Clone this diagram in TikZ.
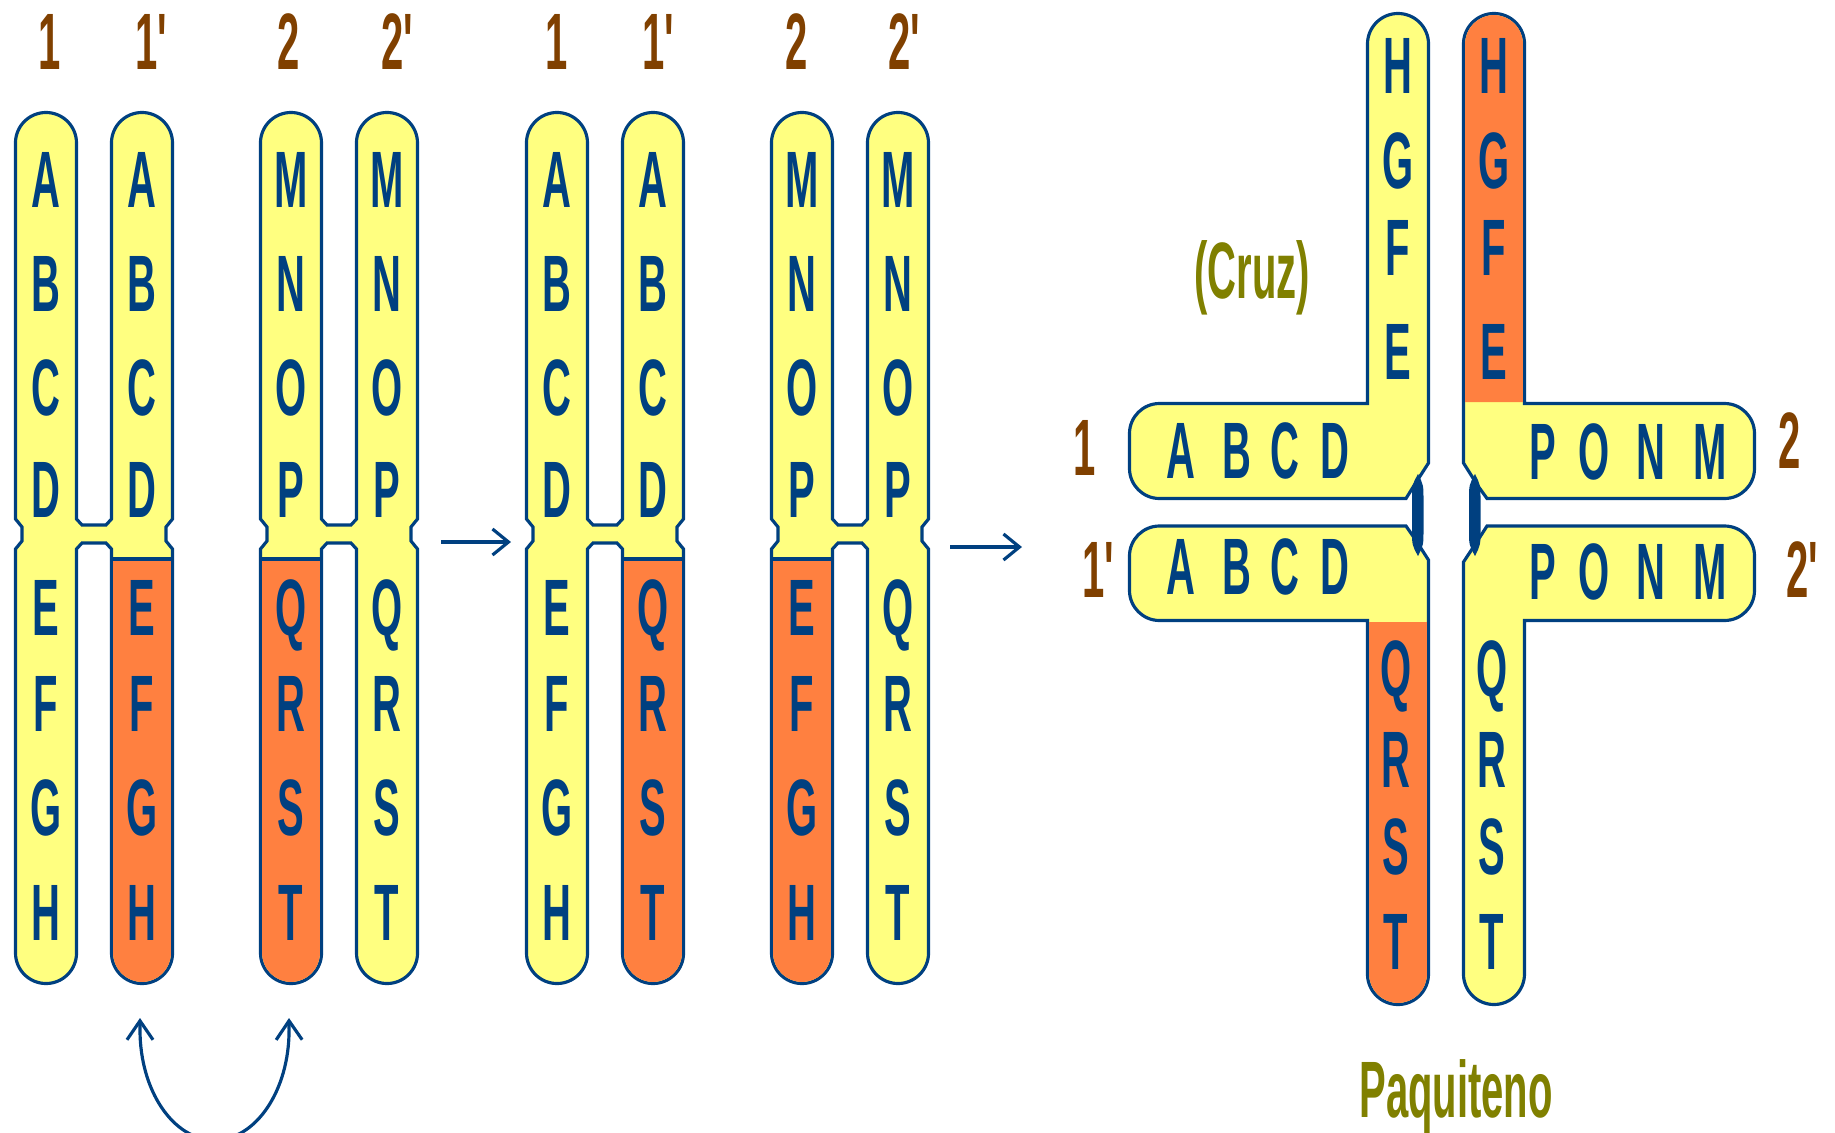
\documentclass[tikz,border=0pt]{standalone}
\usepackage{fontspec}
\newfontfamily\pixfont{Liberation Sans}[FakeStretch=0.5,Ligatures=TeXOff]
\usetikzlibrary{arrows.meta}
\definecolor{chromyellow}{RGB}{255,255,128}
\definecolor{chromorange}{RGB}{255,128,64}
\definecolor{chromblue}{RGB}{0,64,128}
\definecolor{labelbrown}{RGB}{128,64,0}
\definecolor{captionolive}{RGB}{128,128,0}

\newcommand{\capr}{0.305cm}
% two sister chromatids held together at the centromere
\newcommand{\pairoutline}[2]{(#1-30.5,143) -- (#1-30.5,519) -- (#1-24,527) -- (#1-24,541) -- (#1-30.5,549) -- (#1-30.5,953)
  arc[start angle=180,end angle=360,radius=\capr] -- (#1+30.5,549) -- (#1+36,543) -- (#2-36,543) -- (#2-30.5,549) -- (#2-30.5,953)
  arc[start angle=180,end angle=360,radius=\capr] -- (#2+30.5,549) -- (#2+24,541) -- (#2+24,527) -- (#2+30.5,519) -- (#2+30.5,143)
  arc[start angle=0,end angle=180,radius=\capr] -- (#2-30.5,519) -- (#2-36,525) -- (#1+36,525) -- (#1+30.5,519) -- (#1+30.5,143)
  arc[start angle=0,end angle=180,radius=\capr] -- cycle}
% translocated lower arm
\newcommand{\orangearm}[1]{(#1-28.9,559) -- (#1-28.9,953) arc[start angle=180,end angle=360,radius=0.289cm] -- (#1+28.9,559) -- cycle}
% centromere of the cross
\newcommand{\centromere}[1]{(#1,474) .. controls (#1-6,485) .. (#1-6,500) -- (#1-6,530) .. controls (#1-6,545) .. (#1,556)
  .. controls (#1+5.5,545) .. (#1+5.5,530) -- (#1+5.5,500) .. controls (#1+5.5,485) .. cycle}

\tikzset{
  chromline/.style={draw=chromblue,line width=0.9pt},
  gene/.style={font=\pixfont\bfseries\fontsize{22.75}{24}\selectfont,text=chromblue,inner sep=0pt,text height=0.55cm,text depth=0pt},
  chromlabel/.style={gene,text=labelbrown},
  caption/.style={font=\pixfont\bfseries\fontsize{22.75}{24}\selectfont,text=captionolive,inner sep=0pt,anchor=base},
  steparrow/.style={chromblue,line width=0.9pt,-{Straight Barb[length=1.6mm,width=2.6mm]}},
  swaparrow/.style={chromblue,line width=0.9pt,{Straight Barb[length=1.9mm,width=2.6mm]}-{Straight Barb[length=1.9mm,width=2.6mm]}}
}

\begin{document}
\begin{tikzpicture}[x=0.01cm,y=-0.01cm]
\useasboundingbox (0,0) rectangle (1835,1133);
\clip (0,0) rectangle (1835,1133);

% bivalents before and after the exchange
\foreach \a/\b in {46/142,291/387,557/653,802/898}
  \filldraw[chromline,fill=chromyellow] \pairoutline{\a}{\b};
\foreach \c in {142,291,653,802}{
  \fill[chromorange] \orangearm{\c};
  \draw[chromline] (\c-30.5,559) -- (\c+30.5,559);
}
\foreach \cx/\genes/\nm in {46/{A,B,C,D,E,F,G,H}/ia,142/{A,B,C,D,E,F,G,H}/ib,291/{M,N,O,P,Q,R,S,T}/iia,387/{M,N,O,P,Q,R,S,T}/iib,
    557/{A,B,C,D,E,F,G,H}/ma,653/{A,B,C,D,Q,R,S,T}/mb,802/{M,N,O,P,E,F,G,H}/mc,898/{M,N,O,P,Q,R,S,T}/md}
  \foreach \g [count=\k from 0] in \genes {
    \pgfmathsetmacro\gy{{180,284,388,490,608,704,808,913}[\k]}
    \node[gene] (\nm-\k) at (\cx,\gy) {\g};
  }
\foreach \x/\t/\nm in {49.5/1/la,151/1'/lb,288.5/2/lc,397/2'/ld,556.5/1/ma,658/1'/mb,796.5/2/mc,904.5/2'/md}
  \node[chromlabel] (tag-\nm) at (\x,42) {\t};

\coordinate (passOneA) at (441,542);
\coordinate (passOneB) at (511,542);
\coordinate (passTwoA) at (950,547);
\coordinate (passTwoB) at (1022,547);
\draw[steparrow] (passOneA) -- (passOneB);
\draw[steparrow] (passTwoA) -- (passTwoB);

\coordinate (swapL) at (140,1018);
\coordinate (swapR) at (289,1018);
\draw[swaparrow] (swapL) -- (140,1030) arc[start angle=180,end angle=360,x radius=0.745cm,y radius=1.1cm] -- (swapR);

% pachytene cross
\filldraw[chromline,fill=chromyellow] (1367.5,44) arc[start angle=180,end angle=0,radius=\capr] -- (1428.5,463) -- (1415,484) -- (1406,498.5)
  [rounded corners=0.3cm] -- (1129.5,498.5) -- (1129.5,403.5) [sharp corners] -- (1367.5,403.5) -- cycle;
\filldraw[chromline,fill=chromyellow] (1406,526) -- (1415,539) -- (1428.5,560) -- (1428.5,974) arc[start angle=360,end angle=180,radius=\capr]
  -- (1367.5,620.5) [rounded corners=0.3cm] -- (1129.5,620.5) -- (1129.5,526) [sharp corners] -- cycle;
\filldraw[chromline,fill=chromyellow] (1463.5,44) arc[start angle=180,end angle=0,radius=\capr] -- (1524.5,403.5)
  [rounded corners=0.3cm] -- (1754.5,403.5) -- (1754.5,498.5) [sharp corners] -- (1487,498.5) -- (1478,486) -- (1463.5,463) -- cycle;
\filldraw[chromline,fill=chromyellow] (1487,526) [rounded corners=0.3cm] -- (1754.5,526) -- (1754.5,620.5) [sharp corners]
  -- (1524.5,620.5) -- (1524.5,974) arc[start angle=0,end angle=-180,radius=\capr] -- (1463.5,562) -- (1478,540) -- cycle;
\fill[chromorange] (1465.1,402) -- (1465.1,44) arc[start angle=180,end angle=0,radius=0.289cm] -- (1522.9,402) -- cycle;
\fill[chromorange] (1369.1,622) -- (1369.1,974) arc[start angle=180,end angle=360,radius=0.289cm] -- (1426.9,622) -- cycle;
\fill[chromblue] \centromere{1418};
\fill[chromblue] \centromere{1475};

\foreach \g/\y [count=\k] in {H/66,G/161,F/248,E/352}{
  \node[gene] (up1-\k) at (1398,\y) {\g};
  \node[gene] (up2-\k) at (1494,\y) {\g};
}
\foreach \g/\x [count=\k] in {A/1181,B/1237,C/1285,D/1335}{
  \node[gene] (arm1-\k) at (\x,451) {\g};
  \node[gene] (arm1p-\k) at (\x,567) {\g};
}
\foreach \g/\x [count=\k] in {P/1543,O/1594,N/1651,M/1710}{
  \node[gene] (arm2-\k) at (\x,452) {\g};
  \node[gene] (arm2p-\k) at (\x,572) {\g};
}
\foreach \g/\y [count=\k] in {Q/669,R/760,S/847,T/942}{
  \node[gene] (low1p-\k) at (1396,\y) {\g};
  \node[gene] (low2p-\k) at (1492,\y) {\g};
}
\node[chromlabel] (tag-x1) at (1085,448) {1};
\node[chromlabel] (tag-x1p) at (1098,570) {1'};
\node[chromlabel] (tag-x2) at (1790,441) {2};
\node[chromlabel] (tag-x2p) at (1802,570) {2'};

\node[caption] (cruz) at (1252,298) {(Cruz)};
\node[caption] (paquiteno) at (1456,1117) {Paquiteno};
\end{tikzpicture}
\end{document}
